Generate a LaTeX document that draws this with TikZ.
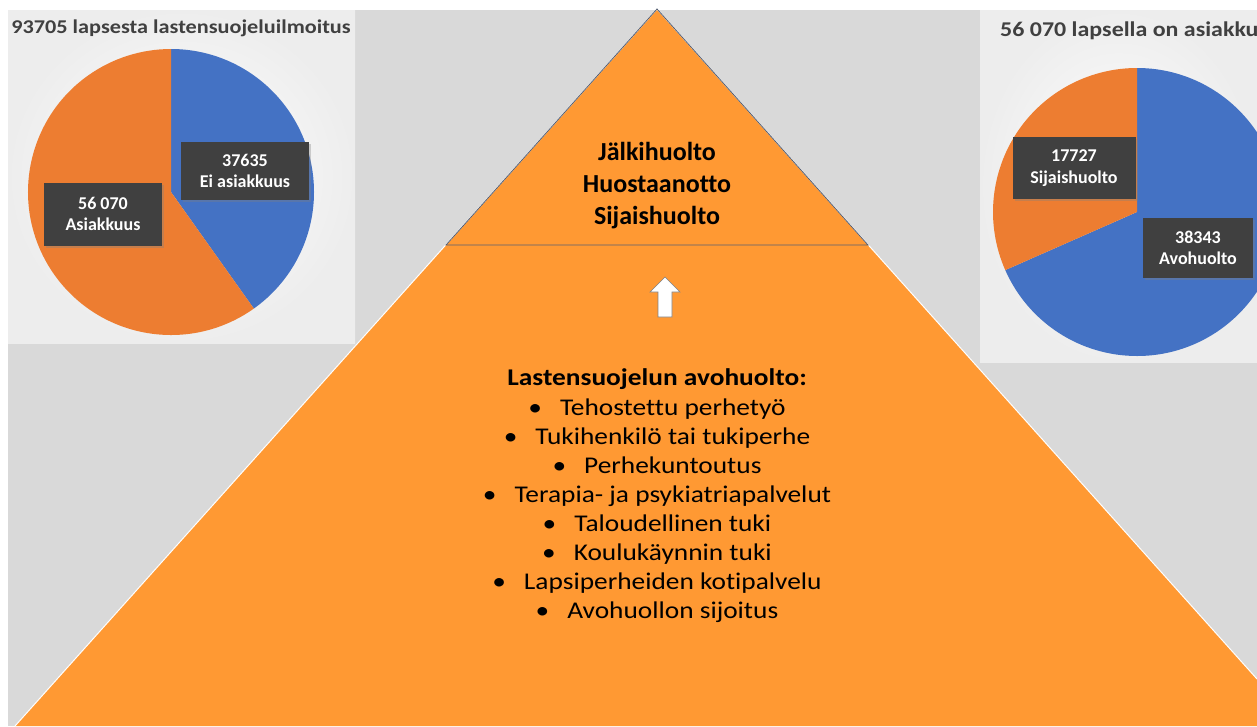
\documentclass[tikz,border=0pt]{standalone}
\usepackage{fontspec}
\setmainfont{Carlito}[Ligatures={TeX,NoCommon}]
\newfontfamily\widefont{Carlito}[FakeStretch=1.14, Ligatures={TeX,NoCommon}]
\usepackage{tikz}
\usetikzlibrary{shadows}
\definecolor{bggray}{RGB}{217,217,217}
\definecolor{pyrorange}{RGB}{255,153,51}
\definecolor{pieblue}{RGB}{68,114,196}
\definecolor{pieorange}{RGB}{237,125,49}
\definecolor{labeldark}{RGB}{64,64,64}
\definecolor{titlegray}{RGB}{64,64,64}
\definecolor{edgeslate}{RGB}{85,95,115}

\begin{document}
\begin{tikzpicture}[x=1pt,y=-1pt,
    valuebox/.style={fill=labeldark, text=white, align=center, inner sep=0pt,
      font=\fontsize{18}{21.5}\selectfont\bfseries,
      drop shadow={opacity=0.35, shadow xshift=2pt, shadow yshift=-2pt}},
    charttitle/.style={text=titlegray, font=\widefont\fontsize{19.5}{22}\selectfont\bfseries, inner sep=0pt}]
    \useasboundingbox (0,0) rectangle (1257,726);
    \begin{scope}
    \clip (0,0) rectangle (1257,726);

    % Background
    \fill[bggray] (8,10) rectangle (1257,726);

    % Pyramid
    \fill[pyrorange] (657,9) -- (15,726) -- (1257,726) -- (1257,679) -- cycle;
    \draw[white, line width=1pt] (15,726) -- (657,9) -- (1257,679);
    \draw[edgeslate, line width=0.8pt] (446,245) -- (657,9) -- (868,245) -- cycle;

    \node[font=\fontsize{26}{32}\selectfont\bfseries, align=center] (ylataso) at (657,186)
        {Jälkihuolto\\Huostaanotto\\Sijaishuolto};

    % Arrow up
    \draw[gray, fill=white, line width=0.6pt] (658,317) -- (658,292) -- (650,292) -- (665,277)
        -- (680,292) -- (672,292) -- (672,317) -- cycle;

    \node[font=\widefont\fontsize{24}{29.1}\selectfont, align=center] (avohuolto) at (657,496)
        {\textbf{Lastensuojelun avohuolto:}\\
         •\hspace{0.75em}Tehostettu perhetyö\\
         •\hspace{0.75em}Tukihenkilö tai tukiperhe\\
         •\hspace{0.75em}Perhekuntoutus\\
         •\hspace{0.75em}Terapia- ja psykiatriapalvelut\\
         •\hspace{0.75em}Taloudellinen tuki\\
         •\hspace{0.75em}Koulukäynnin tuki\\
         •\hspace{0.75em}Lapsiperheiden kotipalvelu\\
         •\hspace{0.75em}Avohuollon sijoitus};

    % Left chart
    \shade[inner color=white, outer color=black!7] (8,10) rectangle (355,343);
    \node[charttitle] (vasotsikko) at (181,28) {93705 lapsesta lastensuojeluilmoitus};
    \fill[pieblue] (171,192) -- +(-90:143) arc[start angle=-90, end angle=54.6, radius=143] -- cycle;
    \fill[pieorange] (171,192) -- +(54.6:143) arc[start angle=54.6, end angle=270, radius=143] -- cycle;
    \node[valuebox, minimum width=128pt, minimum height=58pt] (eiasiakas) at (245,171)
        {37635\\Ei asiakkuus};
    \node[valuebox, minimum width=118pt, minimum height=63pt] (asiakas) at (103,214)
        {56 070\\Asiakkuus};

    % Right chart (title runs off the edge)
    \shade[inner color=white, outer color=black!7] (980,10) rectangle (1257,362);
    \node[charttitle, font=\widefont\fontsize{21}{24}\selectfont\bfseries, anchor=west] (oikotsikko)
        at (1000,31) {56 070 lapsella on asiakkuus};
    \fill[pieblue] (1137,212) -- +(-90:144) arc[start angle=-90, end angle=156.2, radius=144] -- cycle;
    \fill[pieorange] (1137,212) -- +(156.2:144) arc[start angle=156.2, end angle=270, radius=144] -- cycle;
    \node[valuebox, minimum width=123pt, minimum height=62pt] (sijais) at (1074,168)
        {17727\\Sijaishuolto};
    \node[valuebox, minimum width=110pt, minimum height=60pt] (avo) at (1198,248)
        {38343\\Avohuolto};
    \end{scope}
\end{tikzpicture}
\end{document}
